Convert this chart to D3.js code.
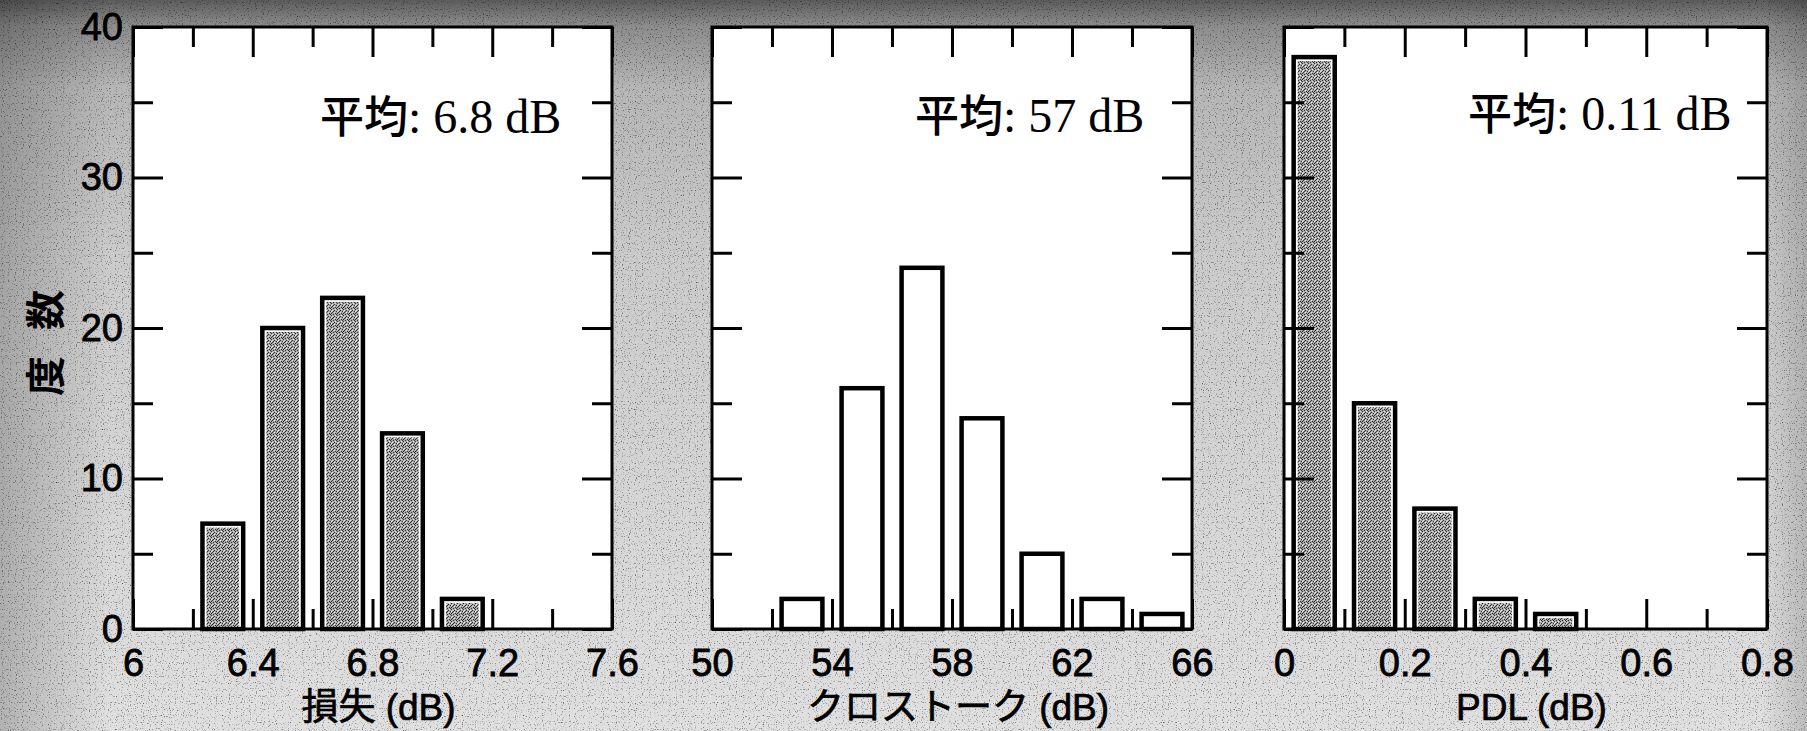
<!DOCTYPE html>
<html>
<head>
<meta charset="utf-8">
<script src="https://cdn.jsdelivr.net/npm/d3@7"></script>
<style>
html, body { margin: 0; padding: 0; background: #cccccc; }
svg { display: block; }
</style>
</head>
<body>
<svg id="chart"></svg>
<script>
// counts per bin (64 devices each)
var lossBins = [6.3, 6.5, 6.7, 6.9, 7.1],
	lossCounts = [7, 20, 22, 13, 2];
var xtalkBins = [53, 55, 57, 59, 61, 63, 65],
	xtalkCounts = [2, 16, 24, 14, 5, 2, 1];
var pdlBins = [0.05, 0.15, 0.25, 0.35, 0.45],
	pdlCounts = [38, 15, 8, 2, 1];

// tick labels
var lossTicks = [6, 6.4, 6.8, 7.2, 7.6],
	xtalkTicks = [50, 54, 58, 62, 66],
	pdlTicks = [0, 0.2, 0.4, 0.6, 0.8],
	countTicks = [0, 10, 20, 30, 40];

var titles = ['損失 (dB)', 'クロストーク (dB)', 'PDL (dB)'],
	means = ['6.8 dB', '57 dB', '0.11 dB'],
	meanLabel = '平均',
	yTitle = '度数';

var W = 1807, H = 731,
	top_y = 27, bottom_y = 629,
	major_len = 30, minor_len = 20,
	tick_font = 38;

var svg = d3.select('#chart').attr('width', W).attr('height', H);
var defs = svg.append('defs');

// scanned-paper look: gradient plus speckle noise
var bg = defs.append('linearGradient').attr('id', 'bgGrad')
	.attr('x1', 0).attr('y1', 0).attr('x2', 0).attr('y2', 1);
[[0, '#5c5c5c'], [0.035, '#8c8c8c'], [0.12, '#b6b6b6'], [0.35, '#cbcbcb'], [1, '#e0e0e0']]
	.forEach(function(s) { bg.append('stop').attr('offset', s[0]).attr('stop-color', s[1]); });
var bgL = defs.append('linearGradient').attr('id', 'bgLeft')
	.attr('x1', 0).attr('y1', 0).attr('x2', 1).attr('y2', 0);
bgL.append('stop').attr('offset', 0).attr('stop-color', '#000').attr('stop-opacity', 0.2);
bgL.append('stop').attr('offset', 0.06).attr('stop-color', '#000').attr('stop-opacity', 0);
bgL.append('stop').attr('offset', 0.975).attr('stop-color', '#000').attr('stop-opacity', 0);
bgL.append('stop').attr('offset', 1).attr('stop-color', '#000').attr('stop-opacity', 0.15);

var noise = defs.append('filter').attr('id', 'speckle')
	.attr('x', 0).attr('y', 0).attr('width', 1).attr('height', 1);
noise.append('feTurbulence').attr('type', 'fractalNoise')
	.attr('baseFrequency', 0.85).attr('numOctaves', 1).attr('seed', 3);
noise.append('feColorMatrix').attr('type', 'matrix')
	.attr('values', '0 0 0 0 0  0 0 0 0 0  0 0 0 0 0  3 0 0 0 -1.75');

// stipple for the grey bars
var pat = defs.append('pattern').attr('id', 'stipple')
	.attr('width', 6).attr('height', 6).attr('patternUnits', 'userSpaceOnUse');
pat.append('rect').attr('width', 6).attr('height', 6).attr('fill', '#a8a8a8');
[[0, 0], [3, 1], [5, 2], [1, 3], [4, 4], [2, 5], [0, 4], [5, 5], [2, 2]].forEach(function(p) {
	pat.append('rect').attr('x', p[0]).attr('y', p[1]).attr('width', 1).attr('height', 1).attr('fill', '#333');
});
[[1, 1], [4, 0], [3, 3], [0, 2]].forEach(function(p) {
	pat.append('rect').attr('x', p[0]).attr('y', p[1]).attr('width', 1).attr('height', 1).attr('fill', '#e6e6e6');
});

svg.append('rect').attr('width', W).attr('height', H).attr('fill', 'url(#bgGrad)');
svg.append('rect').attr('width', W).attr('height', H).attr('fill', 'url(#bgLeft)');
svg.append('rect').attr('width', W).attr('height', H).attr('filter', 'url(#speckle)').attr('opacity', 0.8);

var panels = [
	{bins: lossBins, counts: lossCounts, ticks: lossTicks, left: 133, right: 612, fill: 'url(#stipple)', meanX: 187, meanY: 133},
	{bins: xtalkBins, counts: xtalkCounts, ticks: xtalkTicks, left: 712, right: 1192, fill: '#fff', meanX: 203, meanY: 132},
	{bins: pdlBins, counts: pdlCounts, ticks: pdlTicks, left: 1284, right: 1767, fill: 'url(#stipple)', meanX: 184, meanY: 130}
];

var y = d3.scaleLinear().domain(d3.extent(countTicks)).range([bottom_y - top_y, 0]);
var yMajor = countTicks,
	yMinor = countTicks.slice(0, -1).map(function(d) { return d + 5; });

function styleAxis(g) {
	g.select('.domain').remove();
	g.selectAll('line').attr('stroke', '#000').attr('stroke-width', 3);
	g.selectAll('text')
		.attr('font-family', '"Liberation Sans", Arial, sans-serif')
		.attr('font-size', tick_font)
		.attr('fill', '#000')
		.attr('stroke', '#000')
		.attr('stroke-width', 0.8);
}

panels.forEach(function(p, i) {
	var w = p.right - p.left, h = bottom_y - top_y;
	var x = d3.scaleLinear().domain(d3.extent(p.ticks)).range([0, w]);
	var step = p.ticks[1] - p.ticks[0];
	var minorTicks = p.ticks.slice(0, -1).map(function(d) { return d + step / 2; });
	var binW = p.bins[1] - p.bins[0];
	var barW = x(p.bins[0] + binW * 0.34) - x(p.bins[0] - binW * 0.34);

	var g = svg.append('g').attr('transform', 'translate(' + p.left + ',' + top_y + ')');
	g.append('rect').attr('width', w).attr('height', h).attr('fill', '#fff');

	var data = p.bins.map(function(b, j) { return {bin: b, count: p.counts[j]}; });

	// bars: thick outline, thin white gap, then fill
	var bars = g.selectAll('g.bar').data(data).enter().append('g').attr('class', 'bar');
	bars.append('rect')
		.attr('x', function(d) { return x(d.bin) - barW / 2; })
		.attr('y', function(d) { return y(d.count); })
		.attr('width', barW)
		.attr('height', function(d) { return y(0) - y(d.count); })
		.attr('fill', '#fff')
		.attr('stroke', '#000')
		.attr('stroke-width', 4.5);
	if (p.fill !== '#fff') {
		bars.append('rect')
			.attr('x', function(d) { return x(d.bin) - barW / 2 + 4; })
			.attr('y', function(d) { return y(d.count) + 4; })
			.attr('width', barW - 8)
			.attr('height', function(d) { return Math.max(0, y(0) - y(d.count) - 6); })
			.attr('fill', p.fill);
	}

	// x ticks, inward on bottom and top
	g.append('g').attr('transform', 'translate(0,' + h + ')')
		.call(d3.axisBottom(x).tickValues(p.ticks).tickSize(-major_len).tickSizeOuter(0).tickPadding(20)
			.tickFormat(function(d) { return d3.format('~g')(d); }))
		.call(styleAxis);
	g.append('g').attr('transform', 'translate(0,' + h + ')')
		.call(d3.axisBottom(x).tickValues(minorTicks).tickSize(-minor_len).tickSizeOuter(0).tickFormat(''))
		.call(styleAxis);
	g.append('g')
		.call(d3.axisTop(x).tickValues(p.ticks).tickSize(-major_len).tickSizeOuter(0).tickFormat(''))
		.call(styleAxis);
	g.append('g')
		.call(d3.axisTop(x).tickValues(minorTicks).tickSize(-minor_len).tickSizeOuter(0).tickFormat(''))
		.call(styleAxis);

	// y ticks, inward on left and right; labels only on the first panel
	var yl = d3.axisLeft(y).tickValues(yMajor).tickSize(-major_len).tickSizeOuter(0).tickPadding(10);
	if (i > 0) yl.tickFormat('');
	g.append('g').call(yl).call(styleAxis);
	g.append('g').call(d3.axisLeft(y).tickValues(yMinor).tickSize(-minor_len).tickSizeOuter(0).tickFormat(''))
		.call(styleAxis);
	g.append('g').attr('transform', 'translate(' + w + ',0)')
		.call(d3.axisRight(y).tickValues(yMajor).tickSize(-major_len).tickSizeOuter(0).tickFormat(''))
		.call(styleAxis);
	g.append('g').attr('transform', 'translate(' + w + ',0)')
		.call(d3.axisRight(y).tickValues(yMinor).tickSize(-minor_len).tickSizeOuter(0).tickFormat(''))
		.call(styleAxis);

	// frame
	g.append('rect').attr('width', w).attr('height', h)
		.attr('fill', 'none').attr('stroke', '#000').attr('stroke-width', 3);

	// mean annotation
	var mt = g.append('text')
		.attr('x', p.meanX).attr('y', p.meanY - top_y)
		.attr('fill', '#000');
	mt.append('tspan').attr('font-family', '"Noto Sans CJK JP", sans-serif').attr('font-weight', 500)
		.attr('font-size', 44)
		.text(meanLabel);
	mt.append('tspan').attr('font-family', '"Liberation Serif", "Times New Roman", serif')
		.attr('font-size', 48)
		.text(': ' + means[i]);

	// x title
	svg.append('text')
		.attr('x', p.left + w / 2 + 6).attr('y', 720)
		.attr('text-anchor', 'middle')
		.attr('font-family', '"Liberation Sans", Arial, "Noto Sans CJK JP", sans-serif')
		.attr('font-size', 37).attr('fill', '#000')
		.attr('stroke', '#000').attr('stroke-width', 0.7)
		.text(titles[i]);
});

// y title
svg.append('text')
	.attr('transform', 'translate(60,330) rotate(-90)')
	.attr('text-anchor', 'middle')
	.attr('font-family', '"Noto Sans CJK JP", sans-serif')
	.attr('font-weight', 700)
	.attr('font-size', 40)
	.attr('letter-spacing', 26)
	.attr('fill', '#000')
	.text(yTitle);
</script>
</body>
</html>
